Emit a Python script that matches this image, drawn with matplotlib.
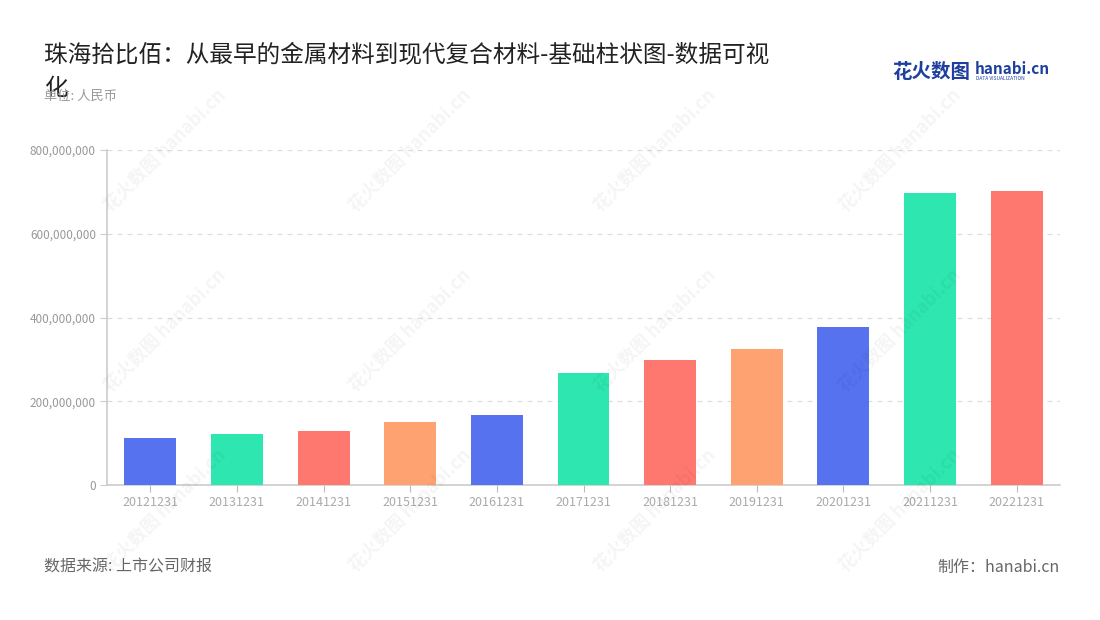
import matplotlib
matplotlib.use('Agg')
import matplotlib.pyplot as plt
from matplotlib.ticker import FuncFormatter, MultipleLocator

plt.rcParams['font.family'] = ['Noto Sans CJK SC', 'DejaVu Sans']

dates = ['20121231', '20131231', '20141231', '20151231', '20161231', '20171231',
         '20181231', '20191231', '20201231', '20211231', '20221231']
values = [112e6, 121e6, 130e6, 150e6, 168e6, 267e6, 298e6, 325e6, 378e6, 698e6, 701e6]
palette = ['#5672EE', '#2EE6B0', '#FF7870', '#FFA271']

fig = plt.figure(figsize=(11, 6.2), dpi=100)
ax = fig.add_axes([107 / 1100, 135 / 620, 953 / 1100, 335 / 620])

colors = [palette[i % len(palette)] for i in range(len(dates))]
ax.bar(range(len(dates)), values, width=0.6, color=colors, zorder=3)

ax.set_xlim(-0.5, len(dates) - 0.5)
ax.set_ylim(0, 800e6)
ax.yaxis.set_major_locator(MultipleLocator(200e6))
ax.yaxis.set_major_formatter(FuncFormatter(lambda v, p: f'{int(v):,}'))
ax.set_xticks(range(len(dates)))
ax.set_xticklabels(dates)
ax.grid(axis='y', color='#dddddd', linestyle=(0, (4, 4)), linewidth=0.9, zorder=0)

for s in ['top', 'right']:
    ax.spines[s].set_visible(False)
for s in ['left', 'bottom']:
    ax.spines[s].set_color('#cccccc')
    ax.spines[s].set_linewidth(1.2)
ax.tick_params(axis='y', colors='#cccccc', labelcolor='#999999', labelsize=8.5, length=5, pad=3)
ax.tick_params(axis='x', colors='#bbbbbb', labelcolor='#aaaaaa', labelsize=9, length=5, pad=3)

# watermarks
for wx in [165, 410, 655, 900]:
    for wy in [150, 330, 510]:
        fig.text(wx / 1100, 1 - wy / 620, '花火数图 hanabi.cn', rotation=45,
                 fontsize=13, color='#000000', alpha=0.045, ha='center', va='center',
                 fontweight='bold', zorder=0)

fig.text(44 / 1100, 1 - 71.5 / 620, '珠海拾比佰：从最早的金属材料到现代复合材料-基础柱状图-数据可视\n化',
         fontsize=17, color='#222222', ha='left', va='center', linespacing=1.6)
fig.text(44 / 1100, 1 - 96 / 620, '单位: 人民币', fontsize=9.5, color='#999999', ha='left', va='center')

fig.text(44 / 1100, 1 - 567 / 620, '数据来源: 上市公司财报', fontsize=11.5, color='#666666', ha='left', va='center')
fig.text(1060 / 1100, 1 - 567 / 620, '制作：hanabi.cn', fontsize=11.5, color='#666666', ha='right', va='center')

# logo
fig.text(892 / 1100, 1 - 72 / 620, '花火数图', fontsize=14, color='#1f3f9e', fontweight='bold',
         ha='left', va='center')
fig.text(975 / 1100, 1 - 69 / 620, 'hanabi.cn', fontsize=11, color='#1f3f9e', fontweight='bold',
         ha='left', va='center')
fig.text(976 / 1100, 1 - 79 / 620, 'DATA VISUALIZATION', fontsize=3.5, color='#1f3f9e',
         ha='left', va='center')

fig.savefig('out.png', dpi=100)
